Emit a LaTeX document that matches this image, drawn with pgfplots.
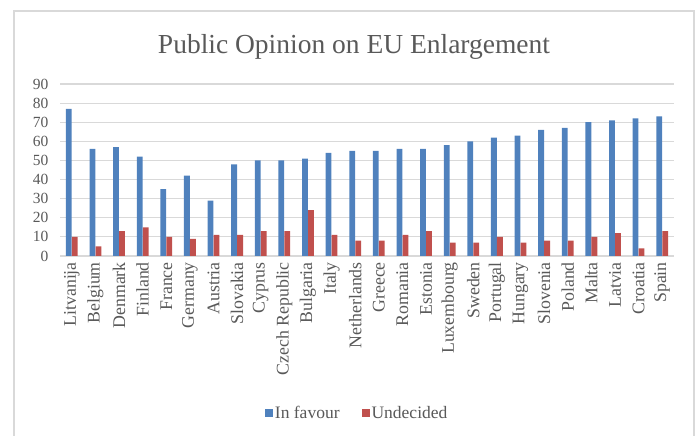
\documentclass[border=0pt]{standalone}
\usepackage{pgfplots}
\pgfplotsset{compat=1.18}
\usepackage{fontspec}
\setmainfont{Liberation Serif}
\definecolor{favblue}{HTML}{4F81BD}
\definecolor{undred}{HTML}{C0504D}
\definecolor{gridgray}{HTML}{D9D9D9}
\definecolor{txtgray}{HTML}{595959}
\begin{document}
\begin{tikzpicture}[x=1pt,y=1pt]
\useasboundingbox (0,0) rectangle (696,436);
\draw[gridgray,line width=2pt] (13.5,-2) -- (13.5,424.5) -- (694,424.5) -- (694,-2);
\node[txtgray,font=\fontsize{27.5}{32}\selectfont] at (354,389) {Public Opinion on EU Enlargement};
\begin{axis}[
  at={(60pt,180pt)}, anchor=south west,
  scale only axis, width=614pt, height=172pt,
  ymin=0, ymax=90, ytick={0,10,...,90},
  xmin=-0.5, xmax=25.5,
  xtick={0,...,25},
  xticklabels={Litvanija,Belgium,Denmark,Finland,France,Germany,Austria,Slovakia,Cyprus,Czech Republic,Bulgaria,Italy,Netherlands,Greece,Romania,Estonia,Luxembourg,Sweden,Portugal,Hungary,Slovenia,Poland,Malta,Latvia,Croatia,Spain},
  x tick label style={rotate=90, anchor=east, font=\fontsize{17.8}{20}\selectfont, text=txtgray, inner sep=0pt},
  xticklabel shift=6pt,
  y tick label style={font=\fontsize{15.5}{18}\selectfont, text=txtgray},
  /pgf/number format/assume math mode=true,
  yticklabel shift=8pt,
  axis line style={draw=none},
  axis x line*=bottom,
  x axis line style={draw=gridgray, line width=1.2pt},
  major tick length=0pt,
  ymajorgrids, grid style={gridgray, line width=1.2pt},
  ybar, bar width=5.8pt,
  legend style={at={(0.484,-0.913)}, anchor=center, legend columns=2, draw=none,
    font=\fontsize{17.5}{19}\selectfont, text=txtgray,
    /tikz/every even column/.append style={column sep=20pt}},
  legend image code/.code={\fill[#1] (-1pt,-4pt) rectangle (7pt,4pt);},
]
\addplot[fill=favblue, draw=none, bar shift=-3pt] coordinates {
(0,77) (1,56) (2,57) (3,52) (4,35) (5,42) (6,29) (7,48) (8,50) (9,50)
(10,51) (11,54) (12,55) (13,55) (14,56) (15,56) (16,58) (17,60) (18,62) (19,63)
(20,66) (21,67) (22,70) (23,71) (24,72) (25,73)};
\addplot[fill=undred, draw=none, bar shift=3pt] coordinates {
(0,10) (1,5) (2,13) (3,15) (4,10) (5,9) (6,11) (7,11) (8,13) (9,13)
(10,24) (11,11) (12,8) (13,8) (14,11) (15,13) (16,7) (17,7) (18,10) (19,7)
(20,8) (21,8) (22,10) (23,12) (24,4) (25,13)};
\legend{In favour, Undecided}
\end{axis}
\end{tikzpicture}
\end{document}
